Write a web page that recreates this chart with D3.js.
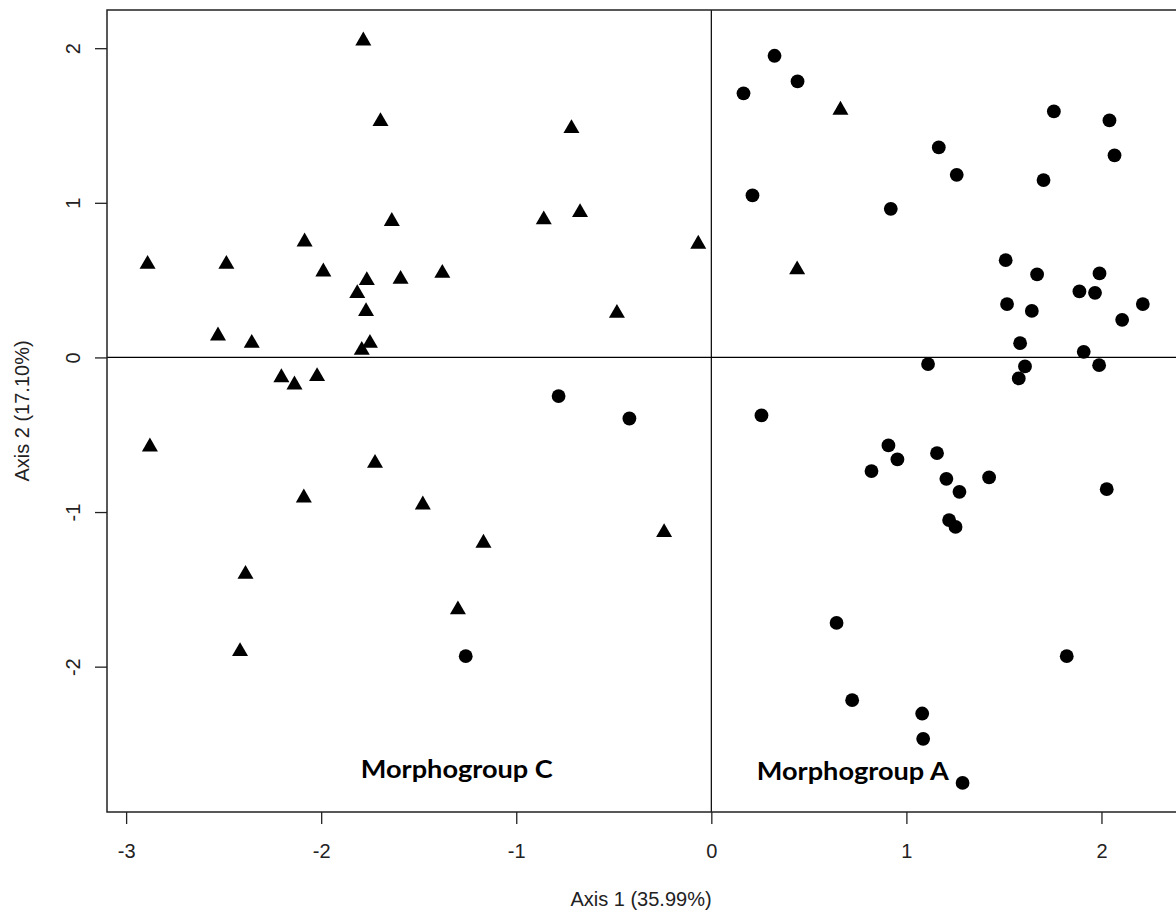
<!DOCTYPE html>
<html>
<head>
<meta charset="utf-8">
<script src="https://cdn.jsdelivr.net/npm/d3@7"></script>
<style>
  body { margin: 0; background: #fff; }
  svg { display: block; }
  .axis text { font-family: "Liberation Sans", Arial, sans-serif; font-size: 20px; fill: #222; }
  .axis line { stroke: #222; stroke-width: 1.3; }
  .title { font-family: "Liberation Sans", Arial, sans-serif; font-size: 20px; fill: #222; }
  .group-label { font-family: Lato, "Open Sans", sans-serif; font-weight: 700; font-size: 25px; fill: #000; }
</style>
</head>
<body>
<div id="chart"></div>
<script>
// Morphogroup C specimens (triangles)
const triX = [-1.784, -1.696, -0.717, -1.638, -0.859, -0.673, -0.067, -2.085, -2.890, -2.486,
  -1.989, -1.766, -1.593, -1.379, -1.815, -1.770, -0.484, -2.529, -2.356, -1.750,
  -1.792, -2.204, -2.137, -2.021, -2.878, -1.724, -2.089, -1.479, -0.242, -1.168,
  -2.388, -1.299, -2.416, 0.662, 0.440]
const triY = [2.063, 1.541, 1.496, 0.895, 0.906, 0.953, 0.748, 0.763, 0.618, 0.618,
  0.569, 0.513, 0.521, 0.560, 0.429, 0.312, 0.301, 0.155, 0.107, 0.107,
  0.062, -0.115, -0.162, -0.108, -0.563, -0.669, -0.893, -0.938, -1.117, -1.186,
  -1.387, -1.617, -1.887, 1.615, 0.582]

// Morphogroup A specimens (dots)
const dotX = [-0.783, -0.420, -1.259, 0.324, 0.442, 0.165, 1.756, 2.041, 2.067, 1.166,
  1.258, 1.703, 0.211, 0.920, 1.509, 1.670, 1.990, 1.887, 1.967, 1.516,
  1.643, 2.212, 2.106, 1.583, 1.909, 1.111, 1.608, 1.576, 1.988, 0.257,
  0.908, 0.954, 0.821, 1.157, 1.205, 1.424, 1.272, 2.027, 1.219, 1.252,
  0.642, 1.822, 0.722, 1.081, 1.086, 1.288]
const dotY = [-0.250, -0.395, -1.932, 1.951, 1.785, 1.708, 1.591, 1.533, 1.307, 1.358,
  1.181, 1.147, 1.048, 0.961, 0.629, 0.537, 0.543, 0.427, 0.418, 0.345,
  0.301, 0.345, 0.243, 0.092, 0.036, -0.043, -0.058, -0.136, -0.050, -0.375,
  -0.569, -0.660, -0.735, -0.619, -0.785, -0.776, -0.869, -0.852, -1.052, -1.096,
  -1.717, -1.932, -2.217, -2.303, -2.467, -2.752]

const xTicks = [-3, -2, -1, 0, 1, 2]
const yTicks = [-2, -1, 0, 1, 2]
const xTitle = 'Axis 1 (35.99%)'
const yTitle = 'Axis 2 (17.10%)'
const groupNames = ['Morphogroup C', 'Morphogroup A']
const groupLabelX = [-1.797, 0.233]
const groupLabelY = [-2.72, -2.735]

const width = 1176
const height = 915
const margin = { top: 10, right: -7, bottom: 103, left: 107 }

const svg = d3.select('#chart')
  .append('svg')
  .attr('width', width)
  .attr('height', height)

const x = d3.scaleLinear()
  .domain([-3.098, 2.418])
  .range([margin.left, width - margin.right])
const y = d3.scaleLinear()
  .domain([-2.94, 2.247])
  .range([height - margin.bottom, margin.top])

const plotLeft = x.range()[0]
const plotRight = x.range()[1]
const plotTop = y.range()[1]
const plotBottom = y.range()[0]

// reference lines through the origin
svg.append('line')
  .attr('x1', plotLeft).attr('x2', plotRight)
  .attr('y1', y(0)).attr('y2', y(0))
  .attr('stroke', '#000').attr('stroke-width', 1.2)
svg.append('line')
  .attr('x1', x(0)).attr('x2', x(0))
  .attr('y1', plotTop).attr('y2', plotBottom)
  .attr('stroke', '#000').attr('stroke-width', 1.2)

// plot box
svg.append('rect')
  .attr('x', plotLeft).attr('y', plotTop)
  .attr('width', plotRight - plotLeft).attr('height', plotBottom - plotTop)
  .attr('fill', 'none').attr('stroke', '#222').attr('stroke-width', 1.5)

const xAxis = svg.append('g')
  .attr('class', 'axis')
  .attr('transform', `translate(0,${plotBottom})`)
  .call(d3.axisBottom(x).tickValues(xTicks).tickSize(12).tickSizeOuter(0).tickPadding(20))
xAxis.select('.domain').remove()
xAxis.selectAll('text').text(d => String(d))

const yAxis = svg.append('g')
  .attr('class', 'axis')
  .attr('transform', `translate(${plotLeft},0)`)
  .call(d3.axisLeft(y).tickValues(yTicks).tickSize(12).tickSizeOuter(0))
yAxis.select('.domain').remove()
yAxis.selectAll('text')
  .text(d => String(d))
  .attr('x', 0)
  .attr('dy', 0)
  .attr('text-anchor', 'middle')
  .attr('transform', 'translate(-27,0) rotate(-90)')

svg.append('text')
  .attr('class', 'title')
  .attr('x', 641)
  .attr('y', 906)
  .attr('text-anchor', 'middle')
  .text(xTitle)

svg.append('text')
  .attr('class', 'title')
  .attr('text-anchor', 'middle')
  .attr('transform', `translate(29,${(plotTop + plotBottom) / 2}) rotate(-90)`)
  .text(yTitle)

// points
const triSize = 111
const triOffset = Math.sqrt(triSize / (3 * Math.sqrt(3))) / 2
const triangles = triX.map((d, i) => ({ x: d, y: triY[i] }))
const dots = dotX.map((d, i) => ({ x: d, y: dotY[i] }))

svg.append('g')
  .selectAll('path')
  .data(triangles)
  .enter()
  .append('path')
  .attr('d', d3.symbol(d3.symbolTriangle, triSize))
  .attr('transform', d => `translate(${x(d.x)},${y(d.y) + triOffset})`)
  .attr('fill', '#000')

svg.append('g')
  .selectAll('circle')
  .data(dots)
  .enter()
  .append('circle')
  .attr('cx', d => x(d.x))
  .attr('cy', d => y(d.y))
  .attr('r', 6.9)
  .attr('fill', '#000')

svg.append('g')
  .selectAll('text')
  .data(groupNames)
  .enter()
  .append('text')
  .attr('class', 'group-label')
  .attr('x', (d, i) => x(groupLabelX[i]))
  .attr('y', (d, i) => y(groupLabelY[i]))
  .attr('textLength', 192)
  .attr('lengthAdjust', 'spacingAndGlyphs')
  .text(d => d)
</script>
</body>
</html>
